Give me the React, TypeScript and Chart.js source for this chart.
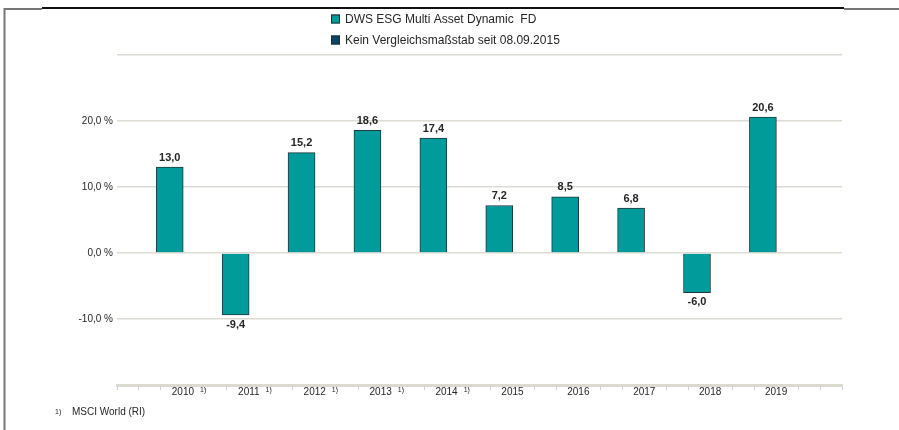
import React, { useEffect, useRef } from "react";
import { Chart, registerables } from "chart.js";

Chart.register(...registerables);

const years = [2010, 2011, 2012, 2013, 2014, 2015, 2016, 2017, 2018, 2019];
const values = [13.0, -9.4, 15.2, 18.6, 17.4, 7.2, 8.5, 6.8, -6.0, 20.6];
const footnotedYears = [2010, 2011, 2012, 2013, 2014];
const yLabelTicks = [-10, 0, 10, 20];
const legendLabels = ["DWS ESG Multi Asset Dynamic  FD", "Kein Vergleichsmaßstab seit 08.09.2015"];
const legendColors = ["#009b9a", "#0b4566"];
const footnoteMark = "1)";
const footnoteText = "MSCI World (RI)";

const FONT = "'Liberation Sans', Arial, sans-serif";
const TEXT = "#262626";
const GRID = "#dddbd3";

const fmt = (v: number) => v.toFixed(1).replace(".", ",");

export default function App() {
  const ref = useRef<HTMLCanvasElement | null>(null);

  useEffect(() => {
    if (!ref.current) return;

    const framePlugin = {
      id: "frame",
      beforeDraw(chart: any) {
        const ctx = chart.ctx;
        ctx.save();
        ctx.fillStyle = "#ffffff";
        ctx.fillRect(0, 0, chart.width, chart.height);
        ctx.lineWidth = 2;
        ctx.strokeStyle = "#777777";
        ctx.beginPath();
        ctx.moveTo(4.5, 8);
        ctx.lineTo(4.5, chart.height);
        ctx.stroke();
        ctx.beginPath();
        ctx.moveTo(4, 9);
        ctx.lineTo(42, 9);
        ctx.stroke();
        ctx.beginPath();
        ctx.moveTo(844, 9);
        ctx.lineTo(chart.width, 9);
        ctx.stroke();
        ctx.strokeStyle = "#111111";
        ctx.beginPath();
        ctx.moveTo(42, 8);
        ctx.lineTo(844, 8);
        ctx.stroke();
        ctx.restore();
      },
    };

    const textPlugin = {
      id: "texts",
      afterDraw(chart: any) {
        const ctx = chart.ctx;
        const xs = chart.scales.x;
        ctx.save();
        // legend
        legendLabels.forEach((lab, i) => {
          const y = 19 + i * 21;
          ctx.fillStyle = legendColors[i];
          ctx.fillRect(331, y - 4.5, 9, 9);
          ctx.strokeStyle = "#2a2a2a";
          ctx.lineWidth = 1;
          ctx.strokeRect(331.5, y - 4, 8, 8);
          ctx.fillStyle = TEXT;
          ctx.font = `12px ${FONT}`;
          ctx.textAlign = "left";
          ctx.textBaseline = "middle";
          ctx.fillText(lab, 345, y + 0.5);
        });
        // x labels
        years.forEach((yr) => {
          const px = xs.getPixelForValue(yr + 0.2);
          ctx.font = `10px ${FONT}`;
          ctx.fillStyle = TEXT;
          ctx.textAlign = "center";
          ctx.textBaseline = "middle";
          const label = String(yr);
          ctx.fillText(label, px, 392);
          if (footnotedYears.includes(yr)) {
            const w = ctx.measureText(label).width;
            ctx.font = `7px ${FONT}`;
            ctx.textAlign = "left";
            ctx.fillText(footnoteMark, px + w / 2 + 6, 390);
          }
        });
        // footnote
        ctx.font = `7px ${FONT}`;
        ctx.textAlign = "left";
        ctx.textBaseline = "middle";
        ctx.fillStyle = TEXT;
        ctx.fillText(footnoteMark, 55, 412);
        ctx.font = `10px ${FONT}`;
        ctx.fillText(footnoteText, 72, 412);
        ctx.restore();
      },
      afterDatasetsDraw(chart: any) {
        const ctx = chart.ctx;
        const meta = chart.getDatasetMeta(0);
        ctx.save();
        ctx.font = `bold 11px ${FONT}`;
        ctx.fillStyle = TEXT;
        ctx.textAlign = "center";
        meta.data.forEach((el: any, i: number) => {
          const v = values[i];
          if (v >= 0) {
            ctx.textBaseline = "bottom";
            ctx.fillText(fmt(v), el.x, el.y - 4);
          } else {
            ctx.textBaseline = "top";
            ctx.fillText(fmt(v), el.x, el.y + 4);
          }
        });
        ctx.restore();
      },
    };

    const chart = new Chart(ref.current, {
      type: "bar",
      data: {
        datasets: [
          {
            label: legendLabels[0],
            data: years.map((y, i) => ({ x: y, y: values[i] })),
            backgroundColor: legendColors[0],
            borderColor: "#1e3a3a",
            borderWidth: 1,
            barThickness: 27,
          },
        ],
      },
      options: {
        responsive: false,
        animation: false,
        devicePixelRatio: 1,
        layout: { padding: { top: 55, right: 57, bottom: 0, left: 0 } },
        plugins: {
          legend: { display: false },
          tooltip: { enabled: false },
          title: { display: false },
        },
        scales: {
          x: {
            type: "linear",
            offset: false,
            min: 2009.2,
            max: 2020.2,
            afterBuildTicks: (scale: any) => {
              const t = [];
              for (let k = 0; k <= 33; k++) t.push({ value: 2009.2 + k / 3 });
              scale.ticks = t;
            },
            afterFit: (scale: any) => {
              scale.height = 45;
            },
            ticks: { display: false },
            grid: {
              offset: false,
              drawOnChartArea: false,
              drawTicks: true,
              tickLength: 5,
              tickWidth: 1,
              tickColor: (ctx: any) =>
                ctx.index % 3 === 0 && ctx.index >= 3 && ctx.index <= 30 ? "rgba(0,0,0,0)" : "#d3d0c7",
            },
            border: { display: true, color: "#dcd9d0", width: 3 },
          },
          y: {
            min: -20,
            max: 30,
            afterBuildTicks: (scale: any) => {
              scale.ticks = [-20, -10, 0, 10, 20, 30].map((v) => ({ value: v }));
            },
            afterFit: (scale: any) => {
              scale.width = 117;
            },
            ticks: {
              padding: 4,
              color: TEXT,
              font: { family: FONT, size: 10 },
              callback: (v: any) => (yLabelTicks.includes(Number(v)) ? `${fmt(Number(v))} %` : ""),
            },
            grid: { color: GRID, lineWidth: 1.5, drawTicks: false },
            border: { display: false },
          },
        },
      },
      plugins: [framePlugin, textPlugin],
    } as any);

    return () => chart.destroy();
  }, []);

  return (
    <div style={{ position: "absolute", left: 0, top: 0, width: 899, height: 430 }}>
      <canvas ref={ref} width={899} height={430} style={{ width: 899, height: 430, display: "block" }} />
    </div>
  );
}
